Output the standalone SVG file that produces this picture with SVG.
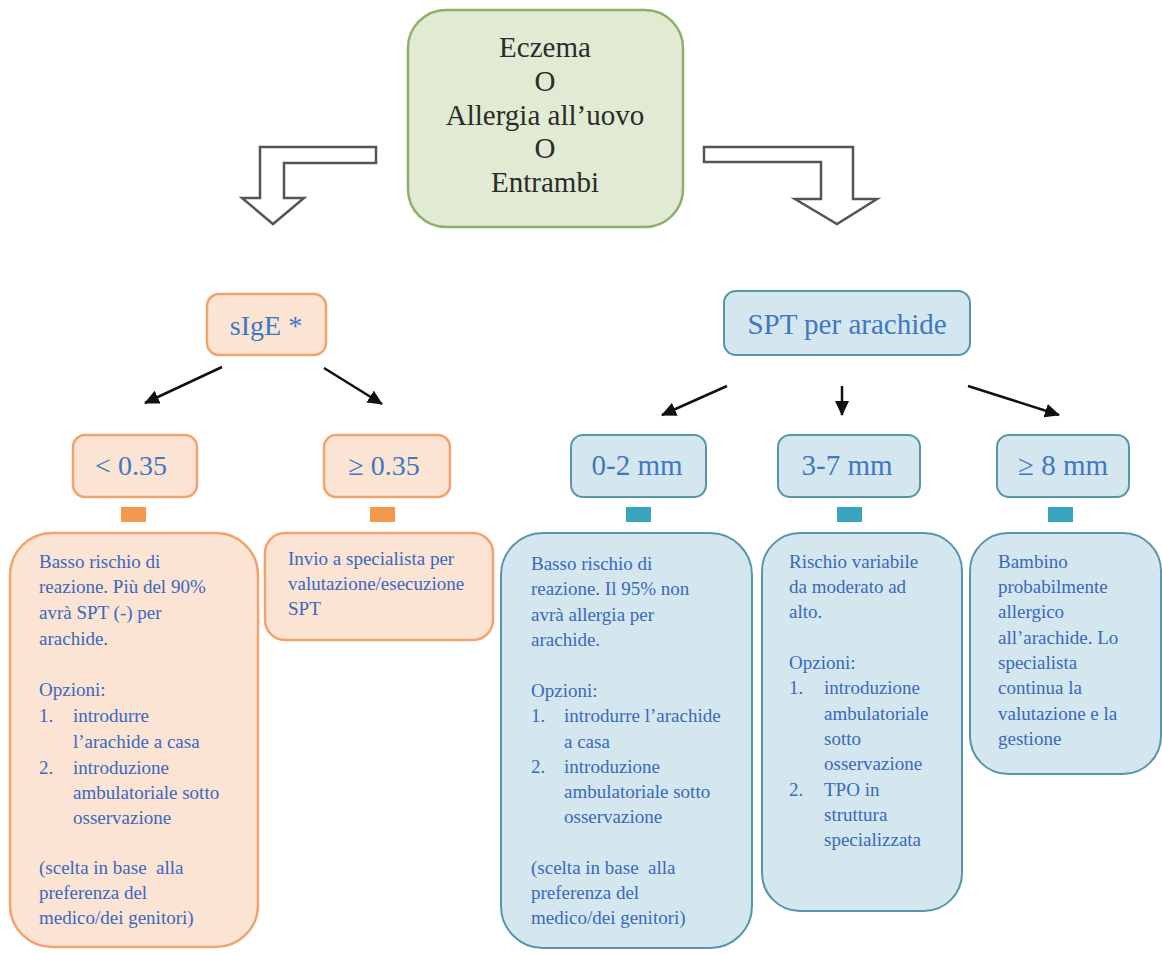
<svg xmlns="http://www.w3.org/2000/svg" width="1162" height="954" viewBox="0 0 1162 954">
<defs>
<marker id="ah" markerUnits="userSpaceOnUse" markerWidth="16" markerHeight="14" refX="14" refY="7" orient="auto">
<path d="M0,0 L15,7 L0,14 Z" fill="#111"/>
</marker>
<style>
.green{fill:#e1ebd4;stroke:#8fb06a;stroke-width:2.5}
.org{fill:#fbe4d4;stroke:#f3a26b;stroke-width:2.5}
.teal{fill:#d4e7ee;stroke:#5796aa;stroke-width:2}
.sqo{fill:#f4984d}
.sqt{fill:#38a4bd}
.top{font-family:"Liberation Serif",serif;font-size:29px;fill:#2b2b2b;text-anchor:middle}
.lbl{font-family:"Liberation Serif",serif;font-size:28px;fill:#3f77c3;text-anchor:middle}
.body{font-family:"Liberation Serif",serif;font-size:19px;fill:#3a68bf}
.bent{fill:#fff;stroke:#555;stroke-width:2.5;stroke-linejoin:miter}
.con{stroke:#111;stroke-width:2.5;fill:none;marker-end:url(#ah)}
</style>
</defs>
<rect width="1162" height="954" fill="#fff"/>

<g id="start">
<rect class="green" x="408" y="10" width="275" height="217" rx="38"/>
<text class="top" x="545" y="57">Eczema</text>
<text class="top" x="545" y="91">O</text>
<text class="top" x="545" y="125">Allergia all’uovo</text>
<text class="top" x="545" y="158">O</text>
<text class="top" x="545" y="192">Entrambi</text>
</g>

<g id="bent-arrows">
<path class="bent" d="M376,147 L260,147 L260,198 L242,198 L273,224 L304,198 L284,198 L284,163 L376,163 Z"/>
<path class="bent" d="M704,147 L853,147 L853,199 L877,199 L837,224 L795,199 L821,199 L821,162 L704,162 Z"/>
</g>

<g id="sige">
<rect class="org" x="207" y="294" width="119" height="61" rx="12"/>
<text class="lbl" x="266" y="335">sIgE *</text>
</g>
<g id="spt">
<rect class="teal" x="724" y="291" width="246" height="64" rx="12"/>
<text class="lbl" x="847" y="334" style="font-size:29px">SPT per arachide</text>
</g>

<g id="lt035">
<rect class="org" x="73" y="435" width="124" height="62" rx="12"/>
<text class="lbl" x="131" y="475">&lt; 0.35</text>
<rect class="sqo" x="121" y="507" width="25" height="15"/>
</g>
<g id="ge035">
<rect class="org" x="324" y="435" width="126" height="62" rx="12"/>
<text class="lbl" x="384" y="475">≥ 0.35</text>
<rect class="sqo" x="370" y="507" width="25" height="15"/>
</g>
<g id="mm02">
<rect class="teal" x="571" y="435" width="135" height="62" rx="12"/>
<text class="lbl" x="637" y="475" style="font-size:29px">0-2 mm</text>
<rect class="sqt" x="626" y="507" width="25" height="15"/>
</g>
<g id="mm37">
<rect class="teal" x="778" y="435" width="142" height="62" rx="12"/>
<text class="lbl" x="847" y="475" style="font-size:29px">3-7 mm</text>
<rect class="sqt" x="837" y="507" width="25" height="15"/>
</g>
<g id="mm8">
<rect class="teal" x="997" y="435" width="132" height="62" rx="12"/>
<text class="lbl" x="1063" y="475" style="font-size:29px">≥ 8 mm</text>
<rect class="sqt" x="1048" y="507" width="25" height="15"/>
</g>

<g id="connectors">
<line class="con" x1="222" y1="367" x2="145" y2="403"/>
<line class="con" x1="324" y1="368" x2="382" y2="404"/>
<line class="con" x1="727" y1="386" x2="662" y2="415"/>
<line class="con" x1="842" y1="386" x2="842" y2="415"/>
<line class="con" x1="968" y1="386" x2="1059" y2="415"/>
</g>

<g id="box-low-sige">
<rect class="org" x="10" y="533" width="248" height="414" rx="42"/>
<text class="body">
<tspan x="39" y="568">Basso rischio di</tspan>
<tspan x="39" y="593">reazione. Più del 90%</tspan>
<tspan x="39" y="619">avrà SPT (-) per</tspan>
<tspan x="39" y="645">arachide.</tspan>
<tspan x="39" y="696">Opzioni:</tspan>
<tspan x="39" y="722">1.</tspan><tspan x="73" y="722">introdurre</tspan>
<tspan x="73" y="748">l’arachide a casa</tspan>
<tspan x="39" y="774">2.</tspan><tspan x="73" y="774">introduzione</tspan>
<tspan x="73" y="799">ambulatoriale sotto</tspan>
<tspan x="73" y="824">osservazione</tspan>
<tspan x="39" y="874">(scelta in base&#160; alla</tspan>
<tspan x="39" y="899">preferenza del</tspan>
<tspan x="39" y="924">medico/dei genitori)</tspan>
</text>
</g>

<g id="box-high-sige">
<rect class="org" x="265" y="533" width="228" height="107" rx="20"/>
<text class="body">
<tspan x="288" y="565">Invio a specialista per</tspan>
<tspan x="288" y="590">valutazione/esecuzione</tspan>
<tspan x="288" y="615">SPT</tspan>
</text>
</g>

<g id="box-02">
<rect class="teal" x="501" y="533" width="251" height="415" rx="42"/>
<text class="body">
<tspan x="531" y="570">Basso rischio di</tspan>
<tspan x="531" y="595">reazione. Il 95% non</tspan>
<tspan x="531" y="621">avrà allergia per</tspan>
<tspan x="531" y="646">arachide.</tspan>
<tspan x="531" y="697">Opzioni:</tspan>
<tspan x="531" y="722">1.</tspan><tspan x="564" y="722">introdurre l’arachide</tspan>
<tspan x="564" y="748">a casa</tspan>
<tspan x="531" y="773">2.</tspan><tspan x="564" y="773">introduzione</tspan>
<tspan x="564" y="798">ambulatoriale sotto</tspan>
<tspan x="564" y="823">osservazione</tspan>
<tspan x="531" y="874">(scelta in base&#160; alla</tspan>
<tspan x="531" y="899">preferenza del</tspan>
<tspan x="531" y="924">medico/dei genitori)</tspan>
</text>
</g>

<g id="box-37">
<rect class="teal" x="762" y="533" width="200" height="378" rx="38"/>
<text class="body">
<tspan x="789" y="568">Rischio variabile</tspan>
<tspan x="789" y="593">da moderato ad</tspan>
<tspan x="789" y="618">alto.</tspan>
<tspan x="789" y="669">Opzioni:</tspan>
<tspan x="789" y="694">1.</tspan><tspan x="824" y="694">introduzione</tspan>
<tspan x="824" y="720">ambulatoriale</tspan>
<tspan x="824" y="745">sotto</tspan>
<tspan x="824" y="770">osservazione</tspan>
<tspan x="789" y="796">2.</tspan><tspan x="824" y="796">TPO in</tspan>
<tspan x="824" y="821">struttura</tspan>
<tspan x="824" y="846">specializzata</tspan>
</text>
</g>

<g id="box-8">
<rect class="teal" x="970" y="533" width="191" height="241" rx="38"/>
<text class="body">
<tspan x="998" y="568">Bambino</tspan>
<tspan x="998" y="593">probabilmente</tspan>
<tspan x="998" y="618">allergico</tspan>
<tspan x="998" y="644">all’arachide. Lo</tspan>
<tspan x="998" y="669">specialista</tspan>
<tspan x="998" y="694">continua la</tspan>
<tspan x="998" y="720">valutazione e la</tspan>
<tspan x="998" y="745">gestione</tspan>
</text>
</g>
</svg>
